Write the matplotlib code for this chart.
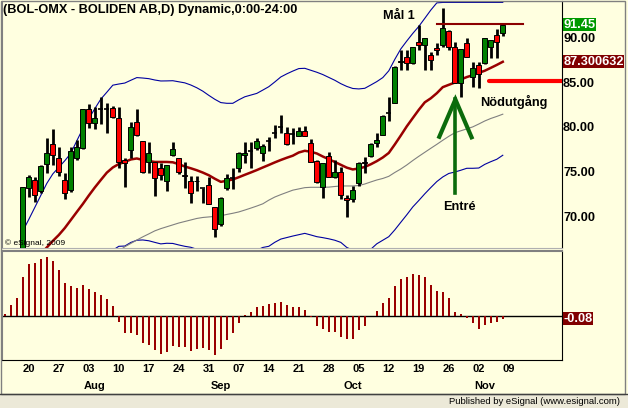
import numpy as np
import matplotlib
matplotlib.use('Agg')
import matplotlib.pyplot as plt
from matplotlib.patches import Rectangle
from matplotlib.lines import Line2D
import matplotlib.transforms as mtransforms

plt.rcParams['font.family'] = ['Liberation Sans', 'DejaVu Sans']

nan = np.nan

# daily OHLC, 14 Jul 2009 .. 06 Nov 2009
opens = [64.2, 64.6, 65.2, 65.5, 73.13, 74.06, 72.83, 75.82, 78.09, 76.49,
         74.06, 72.94, 76.49, 77.68, 81.98, 80.41, 82.0, 81.98, 82.1, 80.97,
         76.30, 77.42, 80.59, 78.43, 76.11, 76.08, 75.44, 73.95, 76.86, 76.49,
         74.62, 73.95, 74.00, 73.16, 73.50, 71.07, 69.10, 73.20, 74.25, 75.37,
         76.86, 77.30, 77.61, 77.12, 78.35, 79.36, 80.03, 79.36, 79.29, 79.02,
         79.58, 78.17, 76.22, 73.31, 76.75, 74.36, 74.92, 72.04, 71.93, 73.69,
         76.11, 76.75, 78.17, 79.10, 81.6, 82.72, 87.28, 87.87, 87.13, 89.55,
         89.18, 88.06, 88.88, 89.18, 90.78, 88.92, 84.96, 89.44, 85.63, 86.94,
         87.13, 88.99, 90.30, 90.49]
highs = [65.0, 65.6, 66.0, 73.3, 74.62, 74.43, 75.74, 78.73, 79.74, 77.72,
         74.81, 77.79, 78.54, 82.0, 82.57, 82.20, 83.32, 82.72, 82.3, 82.20,
         76.49, 80.59, 82.01, 78.48, 78.28, 76.13, 76.00, 75.74, 78.28, 76.52,
         76.11, 74.51, 74.51, 73.20, 74.36, 71.07, 72.16, 74.73, 75.37, 77.23,
         78.35, 78.35, 78.80, 78.09, 78.84, 80.22, 81.34, 79.96, 79.85, 80.03,
         80.11, 78.62, 76.25, 75.96, 77.16, 76.30, 75.48, 72.38, 73.39, 76.03,
         76.60, 78.17, 79.36, 81.34, 83.36, 86.8, 88.62, 88.62, 89.0, 91.42,
         89.95, 88.43, 89.37, 93.29, 90.86, 89.55, 88.72, 89.93, 87.31, 87.31,
         89.95, 89.76, 90.94, 91.68]
lows = [63.6, 64.0, 64.6, 65.0, 72.12, 71.63, 72.60, 74.88, 75.74, 74.51,
        71.93, 72.75, 76.30, 77.53, 79.85, 79.77, 80.33, 79.36, 80.95, 75.37,
        73.31, 76.49, 78.99, 74.84, 74.88, 72.30, 74.06, 72.86, 76.75, 74.73,
        73.20, 71.52, 72.86, 71.45, 71.34, 67.64, 68.91, 72.94, 73.02, 74.99,
        75.93, 75.37, 77.42, 76.24, 77.34, 78.73, 79.36, 77.98, 78.09, 79.0,
        78.95, 76.11, 73.69, 72.08, 74.40, 74.33, 71.90, 69.88, 71.63, 73.39,
        74.81, 76.67, 77.72, 79.08, 80.70, 82.65, 86.38, 86.38, 87.1, 88.62,
        86.38, 86.38, 88.06, 88.99, 88.62, 84.93, 83.39, 87.85, 84.44, 84.33,
        87.1, 87.69, 87.69, 90.19]
closes = [64.6, 65.2, 65.5, 73.25, 74.43, 72.38, 75.63, 77.12, 76.83, 74.95,
          72.57, 77.34, 77.72, 81.98, 80.41, 80.97, 82.05, 81.95, 81.08, 76.11,
          75.93, 80.03, 79.10, 74.95, 77.12, 74.32, 74.62, 75.71, 77.50, 74.99,
          74.51, 72.57, 73.89, 73.11, 71.34, 68.57, 72.08, 74.32, 74.25, 77.12,
          77.05, 77.36, 78.43, 77.87, 78.40, 79.36, 80.03, 78.09, 79.21, 79.58,
          78.99, 76.11, 73.87, 75.93, 74.43, 74.99, 72.38, 71.82, 72.94, 76.00,
          75.93, 78.06, 78.54, 81.23, 81.5, 86.75, 87.39, 87.13, 88.99, 89.18,
          89.93, 87.50, 88.62, 91.05, 88.99, 84.96, 88.70, 87.87, 86.57, 85.93,
          89.93, 89.74, 89.55, 91.45]

red_ma = [nan] * 6 + [65.8, 66.50, 67.23, 67.90, 68.68, 69.58, 70.48, 71.37,
          72.32, 73.22, 74.06, 74.88, 75.46, 75.85, 76.08, 76.36, 76.47, 76.30,
          76.19, 76.08, 76.08, 76.08, 76.04, 75.83, 75.57, 75.37, 75.15, 74.89,
          74.59, 74.20, 73.85, 73.97, 74.12, 74.37, 74.64, 74.90, 75.17, 75.46,
          75.74, 76.03, 76.30, 76.55, 76.78, 77.14, 77.33, 77.22, 77.03, 76.69,
          76.38, 76.08, 75.76, 75.44, 75.24, 75.35, 75.52, 75.82, 76.17, 76.58,
          77.09, 78.04, 79.04, 80.07, 81.00, 81.92, 82.76, 83.21, 83.78, 84.46,
          84.72, 84.97, 85.31, 85.59, 85.80, 86.06, 86.30, 86.62, 86.95, 87.30]
upper_band = [nan] * 3 + [68.35, 69.65, 70.99, 72.34, 73.68, 74.74, 75.48, 76.22,
              77.05, 78.45, 79.81, 80.93, 82.05, 83.12, 83.89, 84.68, 84.81,
              84.92, 85.23, 85.53, 85.48, 85.41, 85.26, 85.15, 85.16, 85.18,
              85.06, 84.94, 84.70, 84.39, 84.01, 83.54, 83.10, 82.73, 82.65,
              82.65, 83.04, 83.38, 83.57, 83.76, 84.13, 84.51, 85.04, 85.60,
              85.95, 86.26, 86.54, 86.57, 86.35, 86.13, 85.87, 85.55, 85.23,
              84.85, 84.54, 84.31, 84.26, 84.33, 84.70, 85.08, 85.53, 86.29,
              87.57, 88.74, 89.63, 90.48, 91.26, 92.17, 93.09, 93.90] + [93.95] * 11
lower_band = [nan] * 15 + [64.5, 65.0, 65.7, 66.2, 66.63, 66.66, 67.06, 67.31,
              67.34, 67.25, 67.07, 66.90, 66.97, 66.95, 66.78, 66.63, 66.52,
              66.3, 66.0, 65.7, 65.4, 65.2, 65.1, 65.1, 65.3, 65.6, 65.9, 66.2,
              66.50, 66.63, 67.08, 67.44, 67.61, 67.78, 67.93, 68.08, 67.90,
              67.71, 67.60, 67.47, 67.31, 67.07, 66.50, 66.2, 66.0, 66.1, 66.3,
              66.91, 67.31, 67.71, 68.47, 69.32, 70.16, 71.04, 71.76, 72.51,
              73.21, 73.88, 74.40, 74.79, 74.95, 75.15, 75.37, 75.37, 75.40,
              75.81, 76.11, 76.38, 76.83]
grey_ma = [nan] * 18 + [65.6, 66.1, 66.58, 66.95, 67.33, 67.69, 68.02, 68.36,
           68.61, 68.82, 69.03, 69.24, 69.41, 69.58, 69.75, 69.86, 69.92, 69.98,
           70.05, 70.20, 70.33, 70.48, 70.69, 70.91, 71.14, 71.39, 71.80, 72.15,
           72.42, 72.67, 72.92, 73.06, 73.20, 73.24, 73.24, 73.24, 73.26, 73.33,
           73.39, 73.39, 73.39, 73.44, 73.61, 73.84, 74.06, 74.23, 74.47, 74.90,
           75.29, 75.74, 76.24, 76.71, 77.16, 77.61, 78.05, 78.51, 78.95, 79.35,
           79.57, 79.78, 80.01, 80.33, 80.67, 80.95, 81.18, 81.43]

macd_hist = [0.08, 0.40, 0.64, 1.38, 1.83, 1.87, 2.01, 2.08, 1.95, 1.62,
             1.17, 1.06, 0.99, 1.11, 0.96, 0.85, 0.76, 0.61, 0.36, -0.19,
             -0.57, -0.57, -0.64, -0.92, -0.99, -1.19, -1.31, -1.24, -1.03, -1.07,
             -1.09, -1.20, -1.13, -1.12, -1.17, -1.34, -1.14, -0.82, -0.57, -0.22,
             0.05, 0.15, 0.33, 0.36, 0.43, 0.48, 0.50, 0.40, 0.33, 0.33,
             0.22, -0.02, -0.34, -0.46, -0.54, -0.54, -0.71, -0.81, -0.78, -0.49,
             -0.33, 0.01, 0.20, 0.48, 0.64, 1.07, 1.31, 1.39, 1.49, 1.46,
             1.39, 1.11, 0.89, 0.86, 0.64, 0.16, 0.08, -0.06, -0.25, -0.43,
             -0.30, -0.23, -0.19, -0.08]

week_pos = [4, 9, 14, 19, 24, 29, 34, 39, 44, 49, 54, 59, 64, 69, 74, 79, 84]
week_labels = ['20', '27', '03', '10', '17', '24', '31', '07', '14', '21',
               '28', '05', '12', '19', '26', '02', '09']
months = ['Aug', 'Sep', 'Oct', 'Nov']
month_pos = [15, 36, 58, 80]
price_ticks = [70, 75, 80, 85, 90]

# trade annotations
target_level, target_from, target_to = 91.53, 72.0, 86.4
stop_level, stop_from = 85.18, 80.7
entry_bar, entry_tip, entry_tail = 75.1, 83.08, 72.64
entry_wings = ([72.42, 75.1, 77.8], [78.9, 83.08, 78.84])

BG = '#FFFFE0'
W, H = 628.0, 408.0


def px_box(x0, y0, x1, y1):
    return [x0 / W, 1 - y1 / H, (x1 - x0) / W, (y1 - y0) / H]


fig = plt.figure(figsize=(6.28, 4.08), dpi=100, facecolor=BG)
ax = fig.add_axes(px_box(2, 1, 562, 248), facecolor=BG)
axm = fig.add_axes(px_box(2, 251, 562, 360), facecolor=BG)

o = np.array(opens); h = np.array(highs); l = np.array(lows); c = np.array(closes)
idx = np.arange(len(c))

ax.plot(idx, upper_band, color='#0000A0', lw=0.8, zorder=1)
ax.plot(idx, lower_band, color='#0000A0', lw=0.8, zorder=1)
ax.plot(idx, grey_ma, color='#808080', lw=0.8, zorder=1)
ax.plot(idx, red_ma, color='#990000', lw=1.8, zorder=2)

ax.vlines(idx, l, h, color='black', lw=2.0, zorder=3)
up = c - o > 0.1
dn = o - c > 0.1
dj = ~(up | dn)
ax.bar(idx[up], (c - o)[up], bottom=o[up], width=0.8, color='#008000',
       edgecolor='black', linewidth=0.7, zorder=4)
ax.bar(idx[dn], (o - c)[dn], bottom=c[dn], width=0.8, color='#FF0000',
       edgecolor='black', linewidth=0.7, zorder=4)
ax.hlines(((o + c) / 2)[dj], idx[dj] - 0.4, idx[dj] + 0.4, color='black', lw=1.2, zorder=4)

ax.plot([target_from, target_to], [target_level] * 2, color='#8B0000', lw=1.5, zorder=5)
ax.plot([stop_from, 100], [stop_level] * 2, color='#FF0000', lw=3.0,
        solid_capstyle='round', zorder=5)
ax.plot([entry_bar, entry_bar], [entry_tail, entry_tip], color='#0B6B0B', lw=2.6, zorder=5)
ax.plot(entry_wings[0], entry_wings[1], color='#0B6B0B', lw=3.0,
        solid_joinstyle='miter', zorder=5)

bold = dict(fontsize=9.2, fontweight='bold', color='black')
ax.text(65.7, 92.43, 'Mål 1', ha='center', va='center', **bold)
ax.text(84.9, 82.8, 'Nödutgång', ha='center', va='center', **bold)
ax.text(75.7, 70.98, 'Entré', ha='center', va='center', **bold)

ax.set_xlim(-0.47, 92.87)
ax.set_ylim(66.44, 94.11)
ax.set_xticks([])
ax.yaxis.tick_right()
ax.set_yticks(price_ticks)
ax.set_yticklabels([f'{v:.2f}' for v in price_ticks], fontsize=9.2, fontweight='bold')
ax.tick_params(axis='y', length=0, pad=0.8)
ax.spines['top'].set_visible(False)
ax.spines['left'].set_color('#808080')
ax.spines['bottom'].set_color('#B0B0B0')
ax.spines['right'].set_color('black')

box_style = dict(fontsize=9.2, fontweight='bold', color='white', ha='left', va='center',
                 xycoords=('axes fraction', 'data'), textcoords='offset points',
                 xytext=(0.9, 0), annotation_clip=False)
ax.annotate('91.45', xy=(1, closes[-1]),
            bbox=dict(boxstyle='square,pad=0.05', fc='#009900', ec='none'), **box_style)
ax.annotate('87.300632', xy=(1, red_ma[-1]),
            bbox=dict(boxstyle='square,pad=0.05', fc='#800000', ec='none'), **box_style)

axm.bar(idx, macd_hist, width=0.33, color='#990000', zorder=2)
axm.axhline(0, color='black', lw=1.0, zorder=1)
axm.set_xlim(-0.47, 92.87)
axm.set_ylim(-1.53, 2.2855)
axm.set_yticks([])
axm.set_xticks(week_pos)
axm.set_xticklabels(week_labels, fontsize=8, fontweight='bold')
axm.tick_params(axis='x', length=0, pad=3)
axm.spines['top'].set_color('#808080')
axm.spines['top'].set_linewidth(1.5)
axm.spines['left'].set_color('#808080')
axm.annotate(f'{macd_hist[-1]:.2f}', xy=(1, macd_hist[-1]),
             bbox=dict(boxstyle='square,pad=0.05', fc='#800000', ec='none'), **box_style)
trans = mtransforms.blended_transform_factory(axm.transData, axm.transAxes)
for name, pos in zip(months, month_pos):
    axm.text(pos, -0.236, name, transform=trans, ha='center', va='center',
             fontsize=8, fontweight='bold')

fig.text(3 / W, 1 - 10 / H, '(BOL-OMX - BOLIDEN AB,D) Dynamic,0:00-24:00',
         ha='left', va='center', fontsize=9.2, fontweight='bold')
fig.text(5 / W, 1 - 243 / H, '© eSignal, 2009', ha='left', va='center', fontsize=6)

fig.add_artist(Rectangle((0, 0), 1, 14 / H, transform=fig.transFigure,
                         fc='#ECE9D8', ec='none'))
fig.add_artist(Line2D([0, 1], [14 / H, 14 / H], transform=fig.transFigure,
                      color='#404040', lw=1))
fig.add_artist(Rectangle((1 / W, 14 / H), 624 / W, 393 / H, transform=fig.transFigure,
                         fill=False, ec='#808080', lw=1))
fig.text(620 / W, 7 / H, 'Published by eSignal (www.esignal.com)',
         ha='right', va='center', fontsize=6.8)

fig.savefig('out.png', dpi=100, facecolor=BG)
